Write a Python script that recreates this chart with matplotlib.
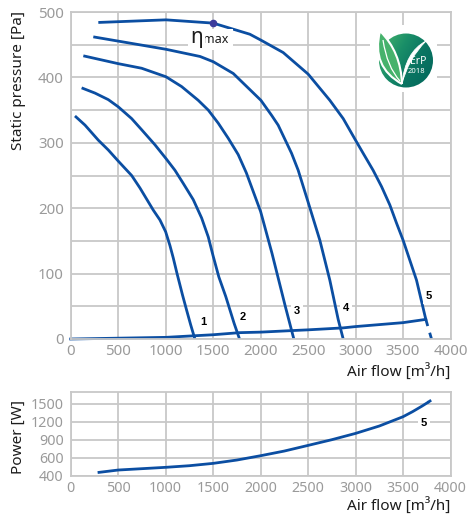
import numpy as np
import matplotlib
matplotlib.use("Agg")
import matplotlib.pyplot as plt
from matplotlib.patches import Circle, Rectangle, PathPatch
from matplotlib.path import Path
from matplotlib.ticker import MultipleLocator, FixedLocator, FixedFormatter
from matplotlib.colors import LinearSegmentedColormap

plt.rcParams['font.family'] = ['Noto Sans', 'DejaVu Sans']

# ---------------- data ----------------
c1_x = [45, 151, 291, 396, 501, 642, 729, 870, 940, 1000, 1045, 1080, 1120, 1178, 1221, 1263, 1308]
c1_y = [341, 327, 304, 289, 272, 250, 231, 197, 182, 164, 143, 124, 100, 67, 44, 22, 0]

c2_x = [115, 256, 396, 501, 642, 747, 887, 1003, 1098, 1185, 1291, 1379, 1449, 1500, 1560, 1633, 1721, 1778]
c2_y = [384, 376, 366, 355, 337, 320, 297, 276, 258, 238, 213, 185, 156, 127, 95, 65, 24, 0]

c3_x = [133, 501, 747, 1003, 1168, 1343, 1449, 1554, 1659, 1764, 1850, 2000, 2120, 2260, 2350]
c3_y = [433, 421, 414, 401, 386, 365, 350, 330, 307, 282, 254, 195, 131, 50, 0]

c4_x = [238, 1003, 1362, 1501, 1712, 2003, 2116, 2185, 2326, 2396, 2501, 2624, 2729, 2817, 2870]
c4_y = [462, 443, 432, 424, 406, 365, 342, 327, 284, 258, 209, 151, 90, 30, 0]

c5_x = [291, 1003, 1501, 1887, 2003, 2238, 2501, 2729, 2870, 3000, 3080, 3185, 3274, 3361, 3432, 3501, 3642, 3740]
c5_y = [484, 488, 483, 466, 457, 438, 405, 365, 337, 304, 284, 258, 233, 205, 177, 151, 90, 30]
c5_dash_x = [3740, 3800]
c5_dash_y = [30, 0]

sys_x = [0, 1000, 1308, 1500, 1778, 2000, 2350, 2500, 2870, 3000, 3500, 3740]
sys_y = [0, 2.5, 5, 6.5, 9.7, 10.5, 13, 14, 17, 19, 25, 30]

eta_x, eta_y = 1501, 483

curve_labels = ['1', '2', '3', '4', '5']
label_x = [1395, 1810, 2385, 2898, 3775]
label_y = [26, 33, 43, 48, 65]

pow_x = [298, 500, 1000, 1250, 1500, 1750, 2000, 2250, 2500, 2750, 3000, 3250, 3500, 3600, 3700, 3760]
pow_y = [437, 463, 493, 511, 537, 574, 633, 711, 805, 900, 1005, 1128, 1283, 1367, 1460, 1520]
pow_dash_x = [3760, 3820]
pow_dash_y = [1520, 1583]
pow_ticks = [400, 600, 900, 1200, 1500]

x_ticks = [0, 500, 1000, 1500, 2000, 2500, 3000, 3500, 4000]
p_ticks = [0, 100, 200, 300, 400, 500]

# ---------------- style ----------------
BLUE = '#0b4ea2'
GRID = '#c8c8c8'
TICK = '#9a9a9a'
TXT = '#1c1c1c'
LW = 2.0

W, H = 469, 519
fig = plt.figure(figsize=(W / 100, H / 100), dpi=100)

def frac(l, t, r, b):
    return [l / W, 1 - b / H, (r - l) / W, (b - t) / H]

def style(ax, size):
    for s in ax.spines.values():
        s.set_color(GRID)
        s.set_linewidth(1.3)
    ax.grid(True, which='both', color=GRID, linewidth=1.3)
    ax.set_axisbelow(True)
    ax.tick_params(which='both', length=0, colors=TICK, labelsize=size)
    ax.tick_params(axis='y', pad=5)
    ax.tick_params(axis='x', pad=3.5)

# ---------------- main pressure chart ----------------
ax = fig.add_axes(frac(70.7, 12, 450.5, 339))
ax.set_xlim(0, 4000)
ax.set_ylim(0, 500)
ax.xaxis.set_major_locator(FixedLocator(x_ticks))
ax.yaxis.set_major_locator(FixedLocator(p_ticks))
ax.yaxis.set_minor_locator(MultipleLocator(50))
style(ax, 10.8)

for xs, ys in [(c1_x, c1_y), (c2_x, c2_y), (c3_x, c3_y), (c4_x, c4_y), (c5_x, c5_y)]:
    ax.plot(xs, ys, color=BLUE, lw=LW, solid_capstyle='butt', solid_joinstyle='round')
ax.plot(c5_dash_x, c5_dash_y, color=BLUE, lw=LW, dashes=(2.5, 2.5), clip_on=False)
ax.plot(sys_x, sys_y, color=BLUE, lw=LW, solid_joinstyle='round', clip_on=False)
ax.plot([eta_x], [eta_y], 'o', color='#3c3c9c', ms=4.5, zorder=5)

for t, lx, ly in zip(curve_labels, label_x, label_y):
    ax.text(lx, ly, t, fontsize=8, fontweight='bold', family='Liberation Sans', color='black',
            ha='center', va='center', bbox=dict(boxstyle='square,pad=0.25', fc='white', ec='none'))

ax.text(1322, 461, 'η', fontsize=15, color=TXT, ha='center', va='center',
        bbox=dict(boxstyle='square,pad=0.1', fc='white', ec='none'), zorder=4)
ax.text(1393, 458, 'max', fontsize=9, color=TXT, ha='left', va='center',
        bbox=dict(boxstyle='square,pad=0.35', fc='white', ec='none'), zorder=3)

# ---------------- power chart ----------------
def fwd(v):
    v = np.asarray(v, dtype=float)
    return np.where(v < 600, 600 - (600 - v) * 1.5, v)

def inv(u):
    u = np.asarray(u, dtype=float)
    return np.where(u < 600, 600 - (600 - u) / 1.5, u)

ax2 = fig.add_axes(frac(70.7, 391.7, 450.5, 475.7))
ax2.set_yscale('function', functions=(fwd, inv))
ax2.set_xlim(0, 4000)
ax2.set_ylim(400, 1700)
ax2.xaxis.set_major_locator(FixedLocator(x_ticks))
ax2.yaxis.set_major_locator(FixedLocator(pow_ticks))
ax2.yaxis.set_major_formatter(FixedFormatter([str(v) for v in pow_ticks]))
ax2.yaxis.set_minor_locator(FixedLocator([]))
style(ax2, 10.3)
ax2.plot(pow_x, pow_y, color=BLUE, lw=LW, solid_joinstyle='round')
ax2.plot(pow_dash_x, pow_dash_y, color=BLUE, lw=LW, dashes=(1.5, 1.2), clip_on=False)
ax2.text(3719, 1173, '5', fontsize=8, fontweight='bold', family='Liberation Sans', color='black',
         ha='center', va='center', bbox=dict(boxstyle='square,pad=0.25', fc='white', ec='none'))

# ---------------- axis titles ----------------
fig.text(18 / W, 1 - 80 / H, 'Static pressure [Pa]', rotation=90, fontsize=11, color=TXT,
         ha='center', va='center')
fig.text(18 / W, 1 - 437 / H, 'Power [W]', rotation=90, fontsize=11, color=TXT,
         ha='center', va='center')
fig.text(450 / W, 1 - 372 / H, 'Air flow [m³/h]', fontsize=11, color=TXT, ha='right', va='center')
fig.text(450 / W, 1 - 506 / H, 'Air flow [m³/h]', fontsize=11, color=TXT, ha='right', va='center')

# ---------------- ErP logo ----------------
lg = fig.add_axes(frac(370, 25, 437, 92))
lg.set_xlim(0, 67)
lg.set_ylim(0, 67)
lg.set_aspect('equal')
lg.axis('off')
lg.add_patch(Rectangle((0, 0), 67, 67, fc='white', ec='none'))
circ = Circle((36, 31.5), 27, fc='none', ec='none')
lg.add_patch(circ)
gx, gy = np.meshgrid(np.linspace(0, 1, 80), np.linspace(0, 1, 80))
grad = np.clip(gx * 0.75 + gy * 0.45 - 0.1, 0, 1)
cm = LinearSegmentedColormap.from_list('erp', ['#3fae6c', '#1a8f68', '#0a7562', '#046a5d'])
im = lg.imshow(grad, cmap=cm, extent=(9, 63, 4.5, 58.5), origin='upper', zorder=1)
im.set_clip_path(circ)
# leaf
lg.add_patch(PathPatch(Path([(32, 8), (1, 25), (10, 61), (31, 40), (32, 8)],
                            [Path.MOVETO, Path.CURVE3, Path.CURVE3, Path.CURVE3, Path.CURVE3]),
                       fc='#46b26c', ec='white', lw=1.5, zorder=3))
lg.add_patch(PathPatch(Path([(13, 52), (17, 25), (30, 11)],
                            [Path.MOVETO, Path.CURVE3, Path.CURVE3]),
                       fc='none', ec='white', lw=0.9, zorder=3))
# swoosh
lg.add_patch(PathPatch(Path([(32, 8), (35, 40), (56, 51), (38, 33), (32, 8)],
                            [Path.MOVETO, Path.CURVE3, Path.CURVE3, Path.CURVE3, Path.CURVE3]),
                       fc='white', ec='white', lw=0.6, zorder=3))
lg.text(48.5, 30, 'ErP', color='white', fontsize=7.5, ha='center', va='center', zorder=4)
lg.text(46.5, 20.5, '2018', color='white', fontsize=5.5, ha='center', va='center', zorder=4)

fig.savefig('out.png', dpi=100)
